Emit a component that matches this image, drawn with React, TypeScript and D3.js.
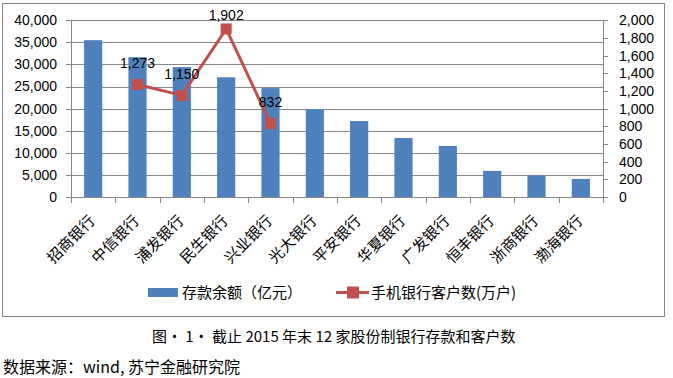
import React from "react";
import * as d3 from "d3";

const categories = ["招商银行", "中信银行", "浦发银行", "民生银行", "兴业银行", "光大银行", "平安银行", "华夏银行", "广发银行", "恒丰银行", "浙商银行", "渤海银行"];
const deposits = [35500, 31650, 29400, 27100, 24650, 19900, 17200, 13350, 11550, 5900, 4900, 4100];
const mobileUsers: (number | null)[] = [null, 1273, 1150, 1902, 832, null, null, null, null, null, null, null];
const leftTicks = [0, 5000, 10000, 15000, 20000, 25000, 30000, 35000, 40000];
const rightTicks = [0, 200, 400, 600, 800, 1000, 1200, 1400, 1600, 1800, 2000];
const seriesNames = ["存款余额（亿元）", "手机银行客户数(万户)"];
const caption = "图· 1· 截止 2015 年末 12 家股份制银行存款和客户数";
const source = "数据来源：wind, 苏宁金融研究院";

const W = 673, H = 378;
const plot = { left: 71, right: 603, top: 20.3, bottom: 197 };
const blue = "#4F81BD";
const red = "#C0504D";
const axisGray = "#868686";
const numFont = "'Liberation Sans', Arial, sans-serif";
const cjkFont = "'Noto Sans CJK SC', sans-serif";

export default function App() {
  const x = d3.scaleBand<string>().domain(categories).range([plot.left, plot.right]).paddingInner(0.59).paddingOuter(0.295);
  const xc = (c: string) => (x(c) as number) + x.bandwidth() / 2;
  const step = x.step();
  const yL = d3.scaleLinear().domain([0, 40000]).range([plot.bottom, plot.top]);
  const yR = d3.scaleLinear().domain([0, 2000]).range([plot.bottom, plot.top]);
  const fmt = d3.format(",");

  const pts = categories.map((c, i) => ({ c, v: mobileUsers[i] })).filter(d => d.v != null) as { c: string; v: number }[];
  const line = d3.line<{ c: string; v: number }>().x(d => xc(d.c)).y(d => yR(d.v));

  return (
    <svg width={W} height={H} style={{ position: "absolute", left: 0, top: 0, background: "#fff" }}>
      <rect x={2.5} y={3.5} width={662} height={313} fill="#fff" stroke={axisGray} strokeWidth={1} />
      {leftTicks.map(t => (
        <g key={t}>
          {t > 0 && <line x1={plot.left} x2={plot.right} y1={Math.round(yL(t)) + 0.5} y2={Math.round(yL(t)) + 0.5} stroke={axisGray} strokeWidth={1} />}
          <line x1={plot.left - 5} x2={plot.left} y1={Math.round(yL(t)) + 0.5} y2={Math.round(yL(t)) + 0.5} stroke={axisGray} />
          <text x={57} y={yL(t)} dy="0.35em" textAnchor="end" fontFamily={numFont} fontSize={14} fill="#000">{fmt(t)}</text>
        </g>
      ))}
      {rightTicks.map(t => (
        <g key={t}>
          <line x1={plot.right} x2={plot.right + 5} y1={Math.round(yR(t)) + 0.5} y2={Math.round(yR(t)) + 0.5} stroke={axisGray} />
          <text x={619} y={yR(t)} dy="0.35em" textAnchor="start" fontFamily={numFont} fontSize={14} fill="#000">{fmt(t)}</text>
        </g>
      ))}
      {categories.map((c, i) => (
        <rect key={c} x={x(c)} y={yL(deposits[i])} width={x.bandwidth()} height={plot.bottom - yL(deposits[i])} fill={blue} />
      ))}
      <line x1={plot.left + 0.5} x2={plot.left + 0.5} y1={plot.top} y2={plot.bottom} stroke={axisGray} />
      <line x1={plot.right + 0.5} x2={plot.right + 0.5} y1={plot.top} y2={plot.bottom} stroke={axisGray} />
      <line x1={plot.left} x2={plot.right} y1={plot.bottom + 0.5} y2={plot.bottom + 0.5} stroke={axisGray} />
      {d3.range(categories.length + 1).map(i => (
        <line key={i} x1={Math.round(plot.left + i * step) + 0.5} x2={Math.round(plot.left + i * step) + 0.5} y1={plot.bottom} y2={plot.bottom + 6} stroke={axisGray} />
      ))}
      {categories.map(c => (
        <text key={c} transform={`translate(${xc(c) - 1},${plot.bottom + 21}) rotate(-45)`} textAnchor="end" dy="0.35em" fontFamily={cjkFont} fontSize={15} fill="#000">{c}</text>
      ))}
      <path d={line(pts) || ""} fill="none" stroke={red} strokeWidth={3} strokeLinejoin="round" />
      {pts.map(d => (
        <g key={d.c}>
          <rect x={xc(d.c) - 5.5} y={yR(d.v) - 5.5} width={11} height={11} fill={red} />
          <text x={xc(d.c)} y={Math.max(yR(d.v) - 21, 15)} dy="0.35em" textAnchor="middle" fontFamily={numFont} fontSize={14} fill="#000">{fmt(d.v)}</text>
        </g>
      ))}
      <g>
        <rect x={148} y={288} width={30} height={9} fill={blue} />
        <text x={182} y={292.5} dy="0.35em" fontFamily={cjkFont} fontSize={15} fill="#000">{seriesNames[0]}</text>
        <line x1={336} x2={369} y1={292.5} y2={292.5} stroke={red} strokeWidth={3} />
        <rect x={347} y={286.5} width={12} height={12} fill={red} />
        <text x={371} y={292.5} dy="0.35em" fontFamily={cjkFont} fontSize={15} fill="#000">{seriesNames[1]}</text>
      </g>
      <text x={152} y={337} dy="0.35em" fontFamily={cjkFont} fontSize={15} fill="#000">{caption}</text>
      <text x={3} y={367} dy="0.35em" fontFamily={cjkFont} fontSize={16} fill="#000">{source}</text>
    </svg>
  );
}
